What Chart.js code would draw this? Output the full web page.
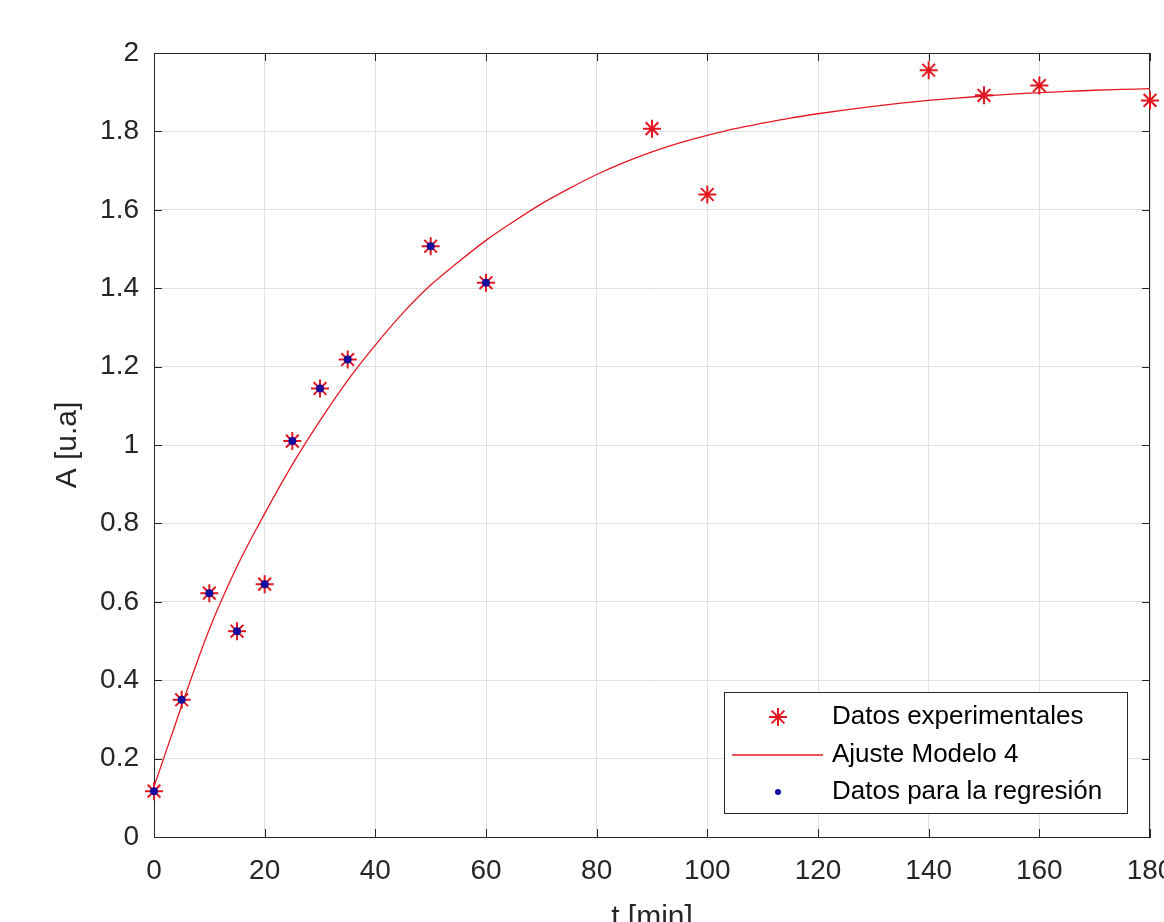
<!DOCTYPE html>
<html>
<head>
<meta charset="utf-8">
<title>Ajuste Modelo 4</title>
<script src="https://cdn.jsdelivr.net/npm/chart.js@4.4.1/dist/chart.umd.min.js"></script>
<style>
    html, body { margin: 0; padding: 0; background: #fff; }
    #wrap { width: 1164px; height: 922px; position: relative; }
</style>
</head>
<body>
<div id="wrap"><canvas id="kinChart"></canvas></div>
<script>
// Experimental data (t in min, A in u.a)
const tExp = [0, 5, 10, 15, 20, 25, 30, 35, 50, 60, 90, 100, 140, 150, 160, 180];
const aExp = [0.117, 0.350, 0.622, 0.525, 0.645, 1.010, 1.144, 1.218, 1.507, 1.414, 1.807, 1.639, 1.956, 1.892, 1.917, 1.879];

// Points used for the regression
const tReg = [0, 5, 10, 15, 20, 25, 30, 35, 50, 60];
const aReg = [0.117, 0.350, 0.622, 0.525, 0.645, 1.010, 1.144, 1.218, 1.507, 1.414];

// Fitted curve, every 5 min
const tFit = [0, 5, 10, 15, 20, 25, 30, 35, 40, 45, 50, 55, 60, 65, 70, 75, 80, 85, 90,
              95, 100, 105, 110, 115, 120, 125, 130, 135, 140, 145, 150, 155, 160, 165, 170, 175, 180];
const aFit = [0.128, 0.335, 0.530, 0.690, 0.825, 0.950, 1.062, 1.165, 1.255, 1.337, 1.408, 1.467, 1.522,
              1.570, 1.615, 1.654, 1.690, 1.721, 1.748, 1.771, 1.790, 1.807, 1.821, 1.834, 1.845,
              1.855, 1.864, 1.872, 1.879, 1.885, 1.890, 1.895, 1.899, 1.902, 1.905, 1.907, 1.909];

// Axis ticks
const xTicks = [0, 20, 40, 60, 80, 100, 120, 140, 160, 180];
const xTickLabels = ['0', '20', '40', '60', '80', '100', '120', '140', '160', '180'];
const yTicks = [0, 0.2, 0.4, 0.6, 0.8, 1, 1.2, 1.4, 1.6, 1.8, 2];
const yTickLabels = ['0', '0.2', '0.4', '0.6', '0.8', '1', '1.2', '1.4', '1.6', '1.8', '2'];

const FONT = "'Liberation Sans', Arial, Helvetica, sans-serif";
const axisColor = '#262626';
const gridColor = '#e1e1e1';
const starColor = 'rgb(225, 22, 30)';
const dotColor = '#140c9c';
const fitColor = 'rgb(228, 24, 34)';

const toPoints = (xs, ys) => xs.map((x, i) => ({ x: x, y: ys[i] }));

// Box on all four sides with inward ticks (MATLAB look)
const boxTicksPlugin = {
    id: 'boxTicks',
    beforeDatasetsDraw(chart) {
        const { ctx, chartArea: { left, right, top, bottom }, scales: { x, y } } = chart;
        const tl = 8;
        ctx.save();
        ctx.strokeStyle = axisColor;
        ctx.lineWidth = 1;
        ctx.beginPath();
        ctx.moveTo(left, top + 0.5);
        ctx.lineTo(right, top + 0.5);
        ctx.moveTo(right - 0.5, top);
        ctx.lineTo(right - 0.5, bottom);
        x.ticks.forEach(t => {
            const px = Math.round(x.getPixelForValue(t.value)) + 0.5;
            ctx.moveTo(px, bottom);
            ctx.lineTo(px, bottom - tl);
            ctx.moveTo(px, top);
            ctx.lineTo(px, top + tl);
        });
        y.ticks.forEach(t => {
            const py = Math.round(y.getPixelForValue(t.value)) + 0.5;
            ctx.moveTo(left, py);
            ctx.lineTo(left + tl, py);
            ctx.moveTo(right, py);
            ctx.lineTo(right - tl, py);
        });
        ctx.stroke();
        ctx.restore();
    }
};

// Legend box inside the plot, bottom right
const insideLegendPlugin = {
    id: 'insideLegend',
    afterDraw(chart) {
        const { ctx, chartArea: { right, bottom } } = chart;
        const w = 403, h = 121;
        const bx = right - 23 - w;
        const by = bottom - 24 - h;
        ctx.save();
        ctx.fillStyle = '#fff';
        ctx.fillRect(bx, by, w, h);
        ctx.strokeStyle = axisColor;
        ctx.lineWidth = 1;
        ctx.strokeRect(Math.round(bx) + 0.5, Math.round(by) + 0.5, w, h);

        const rows = [25, 63, 100];
        const markX = bx + 54;
        ctx.font = '26px ' + FONT;
        ctx.textBaseline = 'middle';
        ctx.textAlign = 'left';
        chart.data.datasets.forEach((ds, i) => {
            const ry = by + rows[i];
            if (ds.showLine) {
                ctx.strokeStyle = ds.borderColor;
                ctx.lineWidth = ds.borderWidth;
                ctx.beginPath();
                ctx.moveTo(bx + 8, ry);
                ctx.lineTo(bx + 99, ry);
                ctx.stroke();
            } else {
                ctx.strokeStyle = ds.borderColor;
                ctx.fillStyle = ds.backgroundColor;
                ctx.lineWidth = ds.borderWidth;
                Chart.helpers.drawPoint(ctx, {
                    pointStyle: ds.pointStyle,
                    radius: ds.legendRadius,
                    borderWidth: ds.borderWidth,
                    rotation: 0
                }, markX, ry);
            }
            ctx.fillStyle = '#000';
            ctx.fillText(ds.label, bx + 108, ry);
        });
        ctx.restore();
    }
};

new Chart(document.getElementById('kinChart'), {
    type: 'scatter',
    data: {
        datasets: [
            {
                label: 'Datos experimentales',
                data: toPoints(tExp, aExp),
                pointStyle: 'star',
                pointRadius: 9,
                legendRadius: 9,
                borderColor: starColor,
                backgroundColor: starColor,
                borderWidth: 2,
                clip: false,
                order: 3
            },
            {
                label: 'Ajuste Modelo 4',
                data: toPoints(tFit, aFit),
                showLine: true,
                cubicInterpolationMode: 'monotone',
                pointRadius: 0,
                borderColor: fitColor,
                backgroundColor: fitColor,
                borderWidth: 1.3,
                order: 2
            },
            {
                label: 'Datos para la regresión',
                data: toPoints(tReg, aReg),
                pointStyle: 'circle',
                pointRadius: 4,
                legendRadius: 3,
                borderColor: dotColor,
                backgroundColor: dotColor,
                borderWidth: 0,
                clip: false,
                order: 1
            }
        ]
    },
    options: {
        responsive: true,
        maintainAspectRatio: false,
        animation: false,
        layout: {
            autoPadding: false,
            padding: { top: 53, right: 14, left: 0, bottom: 0 }
        },
        plugins: {
            legend: { display: false },
            tooltip: { enabled: false }
        },
        scales: {
            x: {
                type: 'linear',
                min: 0,
                max: 180,
                afterBuildTicks: s => { s.ticks = xTicks.map(v => ({ value: v })); },
                afterFit: s => {
                    s.height = 85;
                    s.paddingLeft = 0;
                    s.paddingRight = 0;
                },
                ticks: {
                    callback: (v, i) => xTickLabels[i],
                    color: axisColor,
                    font: { family: FONT, size: 28 },
                    padding: 17,
                    maxRotation: 0,
                    autoSkip: false
                },
                grid: { color: gridColor, drawTicks: false },
                border: { display: true, color: axisColor, width: 1 },
                title: {
                    display: true,
                    text: 't [min]',
                    color: axisColor,
                    font: { family: FONT, size: 30, lineHeight: 1.2 },
                    padding: { top: 0, bottom: -14 }
                }
            },
            y: {
                min: 0,
                max: 2,
                afterBuildTicks: s => { s.ticks = yTicks.map(v => ({ value: v })); },
                afterFit: s => {
                    s.width = 154;
                    s.paddingTop = 0;
                    s.paddingBottom = 0;
                },
                ticks: {
                    callback: (v, i) => yTickLabels[i],
                    color: axisColor,
                    font: { family: FONT, size: 28 },
                    padding: 15,
                    autoSkip: false
                },
                grid: { color: gridColor, drawTicks: false },
                border: { display: true, color: axisColor, width: 1 },
                title: {
                    display: true,
                    text: 'A [u.a]',
                    color: axisColor,
                    font: { family: FONT, size: 30, lineHeight: 1.2 },
                    padding: { top: 50, bottom: 0 }
                }
            }
        }
    },
    plugins: [boxTicksPlugin, insideLegendPlugin]
});
</script>
</body>
</html>
